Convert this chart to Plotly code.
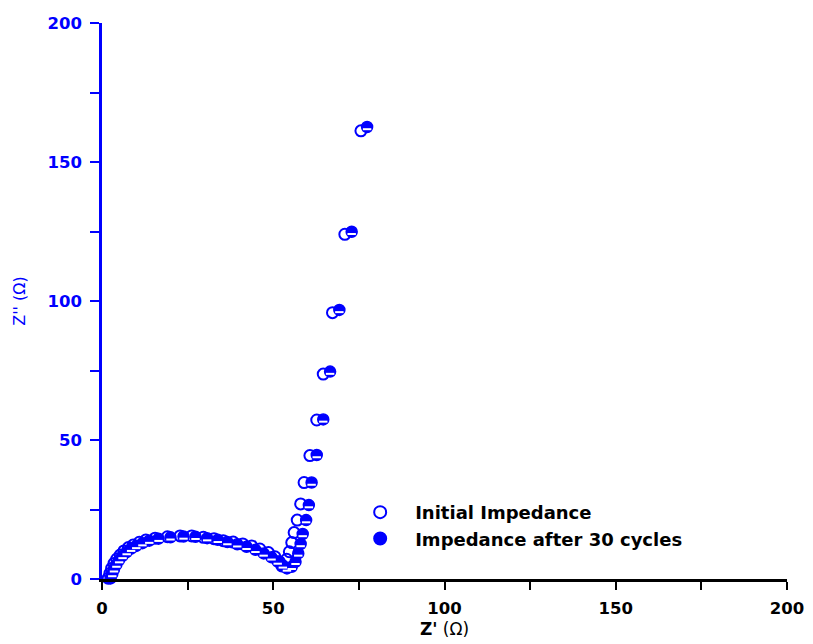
import plotly.graph_objects as go

# Initial impedance (open circles)
init_x = [1.8, 2.3, 2.8, 3.5, 4.3, 5.3, 6.4, 7.7, 9.1, 10.9, 12.8, 15.5, 19.1, 22.8, 26.2,
          29.6, 32.7, 35.4, 38.3, 41.1, 43.7, 46.1, 48.6, 50.5, 51.8, 52.5,
          53.9, 54.7, 55.4, 56.1, 57.0, 58.0, 59.0, 60.7, 62.7, 64.6, 67.3, 70.9, 75.6]
init_y = [0.3, 2.0, 3.8, 5.6, 7.2, 8.6, 10.1, 11.3, 12.2, 13.2, 14.0, 14.7, 15.2, 15.5, 15.5,
          15.0, 14.5, 13.8, 13.3, 12.6, 11.9, 10.8, 9.5, 8.0, 6.2, 4.7,
          7.1, 9.8, 13.1, 16.7, 21.2, 27.0, 34.7, 44.4, 57.2, 73.7, 95.8, 124.0, 161.2]

# Impedance after 30 cycles (half-filled circles)
cyc_x = [2.5, 3.0, 3.5, 4.2, 5.0, 6.0, 7.2, 8.5, 10.0, 11.8, 13.8, 16.5, 20.0, 23.8, 27.3,
         30.7, 33.8, 36.6, 39.5, 42.2, 44.8, 47.2, 49.5, 51.3, 52.8, 54.0,
         55.4, 56.5, 57.3, 58.0, 58.6, 59.6, 60.4, 61.2, 62.7, 64.6, 66.6, 69.3, 72.9, 77.4]
cyc_y = [0.2, 1.8, 3.5, 5.2, 6.8, 8.3, 9.7, 10.9, 11.9, 12.9, 13.8, 14.5, 15.0, 15.3, 15.2,
         14.7, 14.1, 13.3, 12.5, 11.6, 10.5, 9.2, 7.8, 6.3, 4.9, 3.8,
         4.4, 6.2, 9.2, 12.6, 16.2, 21.2, 26.6, 34.7, 44.6, 57.4, 74.6, 96.8, 124.9, 162.6]

tick_vals = [0, 50, 100, 150, 200]
tick_text = ["0", "50", "100", "150", "200"]

BLUE = "#0000ff"
FONT = "DejaVu Sans, Liberation Sans, Arial, sans-serif"

fig = go.Figure()
fig.add_trace(go.Scatter(
    x=init_x, y=init_y, mode="markers", name="Initial Impedance",
    marker=dict(symbol="circle-open", size=11, color=BLUE, line=dict(width=2, color=BLUE)),
    cliponaxis=False))
fig.add_trace(go.Scatter(
    x=cyc_x, y=cyc_y, mode="markers", name="Impedance after 30 cycles",
    marker=dict(symbol="circle", size=11, color=BLUE, line=dict(width=1.5, color=BLUE)),
    cliponaxis=False))
fig.add_trace(go.Scatter(
    x=cyc_x, y=[v - 0.8 for v in cyc_y], mode="markers", showlegend=False, hoverinfo="skip",
    marker=dict(symbol="line-ew", size=6, color="white", line=dict(width=2, color="white")),
    cliponaxis=False))

fig.update_layout(
    width=813, height=644,
    margin=dict(l=102, r=26, t=23, b=65),
    plot_bgcolor="white", paper_bgcolor="white",
    showlegend=True,
    legend=dict(x=0.355, y=0.153, xanchor="left", yanchor="top",
                font=dict(family=FONT, size=18, color="black", weight="bold"),
                bgcolor="rgba(0,0,0,0)", itemsizing="constant", itemwidth=60,
                tracegroupgap=0),
    font=dict(family=FONT),
)
fig.update_xaxes(
    range=[0, 200], tickvals=tick_vals, ticktext=tick_text,
    showgrid=False, zeroline=False, automargin=False,
    showline=True, linecolor="black", linewidth=2.5,
    ticks="outside", ticklen=8, tickwidth=2, tickcolor="black",
    minor=dict(dtick=25, ticks="outside", ticklen=8, tickwidth=2, tickcolor="black", showgrid=False),
    tickfont=dict(family=FONT, size=16.5, color="black", weight="bold"),
    ticklabelstandoff=4,
    title=dict(text="<b>Z'</b> (Ω)", font=dict(family=FONT, size=17, color="black"), standoff=7),
)
fig.update_yaxes(
    range=[0, 200], tickvals=tick_vals, ticktext=tick_text,
    showgrid=False, zeroline=False, automargin=False,
    showline=True, linecolor=BLUE, linewidth=2.5,
    ticks="outside", ticklen=9, tickwidth=2, tickcolor=BLUE,
    minor=dict(dtick=25, ticks="outside", ticklen=9, tickwidth=2, tickcolor=BLUE, showgrid=False),
    tickfont=dict(family=FONT, size=16.5, color=BLUE, weight="bold"),
    ticklabelstandoff=5,
    title=dict(text="Z'' (Ω)", font=dict(family=FONT, size=16, color=BLUE), standoff=18),
)

fig.write_html("out.html")
